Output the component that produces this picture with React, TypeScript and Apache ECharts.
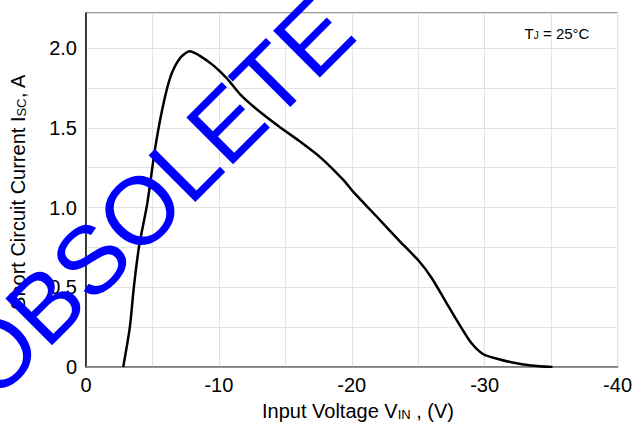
import React, { useEffect, useRef } from "react";
import * as echarts from "echarts";

// Input voltage (V) and short-circuit current (A)
const voltage = [
  -2.8, -3.3, -3.6, -4.0, -4.6, -5.2, -5.8, -6.4, -7.1, -7.8, -8.6, -9.6,
  -10.6, -11.6, -12.8, -14.5, -16.0, -17.7, -19.4, -20.1, -21.8, -23.6, -25.1,
  -26.0, -27.0, -28.0, -29.0, -29.9, -31.0, -32.0, -33.5, -35.1,
];
const current = [
  0.0, 0.25, 0.5, 0.76, 1.02, 1.37, 1.64, 1.83, 1.94, 1.98, 1.95, 1.89,
  1.81, 1.71, 1.62, 1.51, 1.42, 1.31, 1.17, 1.1, 0.95, 0.79, 0.66,
  0.56, 0.42, 0.28, 0.15, 0.08, 0.05, 0.03, 0.01, 0.0,
];

const FONT = 'Arial, "Liberation Sans", sans-serif';

export default function App() {
  const ref = useRef<HTMLDivElement>(null);
  useEffect(() => {
    if (!ref.current) return;
    const chart = echarts.init(ref.current, null, { renderer: "svg" });
    const data = voltage.map((v, i) => [v, current[i]]);
    chart.setOption({
      animation: false,
      grid: {
        left: 86,
        right: 5,
        top: 13,
        bottom: 57,
        show: true,
        borderColor: "#333",
        borderWidth: 1,
      },
      xAxis: {
        type: "value",
        inverse: true,
        min: -40,
        max: 0,
        interval: 5,
        axisLine: { show: true, lineStyle: { color: "#777", width: 1.5 } },
        axisTick: { show: false },
        splitLine: { show: true, lineStyle: { color: "#e3e3e3", width: 1 } },
        axisLabel: {
          margin: 8,
          color: "#000",
          fontSize: 20,
          fontFamily: FONT,
          formatter: (v: number) => (Math.abs(v % 10) < 1e-6 ? String(v) : ""),
        },
      },
      yAxis: {
        type: "value",
        min: 0,
        max: 2.22,
        interval: 0.25,
        axisLine: { show: true, lineStyle: { color: "#111", width: 1.5 } },
        axisTick: { show: false },
        splitLine: { show: true, lineStyle: { color: "#e3e3e3", width: 1 } },
        axisLabel: {
          margin: 9,
          color: "#000",
          fontSize: 20,
          fontFamily: FONT,
          showMaxLabel: false,
          formatter: (v: number) => {
            if (v === 0) return "0";
            if (Math.abs(v * 2 - Math.round(v * 2)) < 1e-6) return v.toFixed(1);
            return "";
          },
        },
      },
      series: [
        {
          type: "line",
          data,
          smooth: 0.25,
          showSymbol: false,
          lineStyle: { color: "#000", width: 2.5 },
          z: 3,
        },
      ],
      graphic: [
        {
          type: "text",
          x: 557,
          y: 33,
          z: 10,
          style: {
            text: "T{sub|J} = 25°C",
            fill: "#000",
            font: `15px ${FONT}`,
            align: "center",
            verticalAlign: "middle",
            rich: {
              sub: { fontSize: 10, fontFamily: FONT, verticalAlign: "bottom", lineHeight: 12, fill: "#000" },
            },
          },
        },
        {
          type: "text",
          x: 358,
          y: 411,
          z: 10,
          style: {
            text: "Input Voltage V{sub|IN} , (V)",
            fill: "#000",
            font: `20px ${FONT}`,
            align: "center",
            verticalAlign: "middle",
            rich: {
              sub: { fontSize: 13, fontFamily: FONT, verticalAlign: "bottom", lineHeight: 14, fill: "#000" },
            },
          },
        },
        {
          type: "text",
          x: 18,
          y: 192,
          rotation: Math.PI / 2,
          z: 10,
          style: {
            text: "Short Circuit Current I{sub|SC}, A",
            fill: "#000",
            font: `20px ${FONT}`,
            align: "center",
            verticalAlign: "middle",
            rich: {
              sub: { fontSize: 13, fontFamily: FONT, verticalAlign: "bottom", lineHeight: 14, fill: "#000" },
            },
          },
        },
        {
          type: "text",
          x: 153,
          y: 197,
          rotation: Math.PI / 4,
          z: 20,
          style: {
            text: "OBSOLETE",
            fill: "#0000ff",
            font: `96px ${FONT}`,
            align: "center",
            verticalAlign: "middle",
          },
        },
      ],
    });
    return () => chart.dispose();
  }, []);
  return (
    <div
      ref={ref}
      style={{ position: "fixed", left: 0, top: 0, width: 635, height: 424, background: "#fff" }}
    />
  );
}
